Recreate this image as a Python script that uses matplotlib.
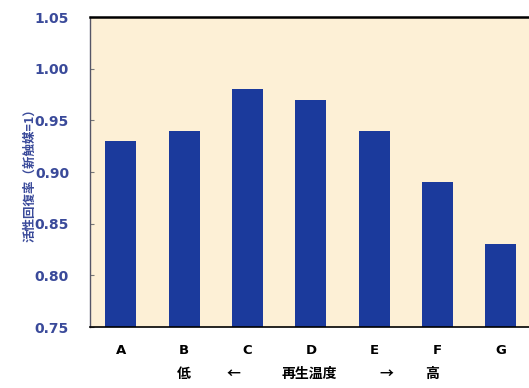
"""Activity recovery ratio of regenerated catalysts by regeneration temperature."""

import matplotlib.pyplot as plt
import numpy as np

plt.rcParams["font.family"] = ["Noto Sans CJK JP", "DejaVu Sans"]

samples = ["A", "B", "C", "D", "E", "F", "G"]
recovery = [0.93, 0.94, 0.98, 0.97, 0.94, 0.89, 0.83]
y_ticks = [0.75, 0.80, 0.85, 0.90, 0.95, 1.00, 1.05]

# second row under the sample letters: (x position in bar units, text)
temp_notes = [(1.0, "低"), (1.77, "←"), (2.97, "再生温度"), (4.2, "→"), (4.91, "高")]

BAR_BLUE = "#1b3a9c"
TICK_BLUE = "#3a4a9a"
PANEL = "#fdf0d6"

fig = plt.figure(figsize=(5.29, 3.88), dpi=100)
ax = fig.add_axes([0.170, 0.157, 0.830, 0.799])
ax.set_facecolor(PANEL)

x = np.arange(len(samples))
ax.bar(x, recovery, width=0.49, color=BAR_BLUE, zorder=2)

ax.set_ylim(0.75, 1.05)
ax.set_xlim(-0.49, 6.445)
ax.set_yticks(y_ticks)
ax.set_yticklabels([f"{v:.2f}" for v in y_ticks], color=TICK_BLUE,
                   fontweight="bold", fontsize=10, family="DejaVu Sans")
ax.tick_params(axis="y", direction="in", length=3, color="#777777", pad=15)
ax.set_xticks(x)
ax.set_xticklabels(samples, fontweight="bold", fontsize=9.5, family="DejaVu Sans")
ax.tick_params(axis="x", length=0, pad=12)

ax.set_ylabel("活性回復率（新触媒=1）", color=TICK_BLUE, fontweight="bold",
              fontsize=9, labelpad=-1)

ax.spines["top"].set_linewidth(1.8)
ax.spines["top"].set_color("black")
ax.spines["bottom"].set_linewidth(1.2)
ax.spines["left"].set_color("#555566")
ax.spines["left"].set_linewidth(1.0)
ax.spines["right"].set_visible(False)

trans = ax.get_xaxis_transform()
for pos, note in temp_notes:
    ax.text(pos, -0.15, note, transform=trans, ha="center", va="center",
            fontsize=10, fontweight="bold", clip_on=False)

fig.savefig("out.png", dpi=100)
